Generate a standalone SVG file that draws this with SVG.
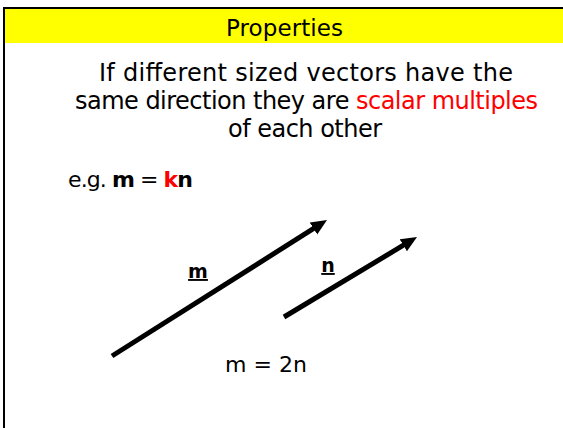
<svg xmlns="http://www.w3.org/2000/svg" width="563" height="428" viewBox="0 0 563 428">
<style>
text{font-family:"DejaVu Sans","Liberation Sans",sans-serif;fill:#000}
.red{fill:#ff0000}
.b{font-weight:bold}
.vec{stroke:#000;stroke-width:5;fill:none;marker-end:url(#ah)}
</style>
<defs>
<marker id="ah" markerUnits="userSpaceOnUse" markerWidth="17" markerHeight="15" refX="5" refY="7" orient="auto">
<path d="M0,0 L16,7 L0,14 z" fill="#000"/>
</marker>
</defs>
<rect x="0" y="0" width="563" height="428" fill="#fff"/>
<g id="header">
<rect x="5" y="9" width="558" height="34" fill="#ffff00"/>
<text x="284.5" y="36" font-size="23" text-anchor="middle" textLength="117">Properties</text>
</g>
<rect x="4" y="8" width="600" height="500" fill="none" stroke="#000" stroke-width="2"/>
<g id="statement">
<text x="306" y="81" font-size="24" text-anchor="middle" textLength="414">If different sized vectors have the</text>
<text x="306.5" y="109" font-size="24" text-anchor="middle" textLength="463">same direction they are <tspan class="red">scalar multiples</tspan></text>
<text x="305" y="137" font-size="24" text-anchor="middle" textLength="154">of each other</text>
</g>
<g id="example">
<text x="68" y="187" font-size="22" textLength="125">e.g. <tspan class="b">m</tspan> = <tspan class="red b">k</tspan><tspan class="b">n</tspan></text>
</g>
<g id="connectors">
<line class="vec" x1="112" y1="356" x2="317.7" y2="225.9"/>
<line class="vec" x1="284" y1="317" x2="407.6" y2="242.7"/>
</g>
<g id="label-m">
<text x="198" y="278" font-size="19" class="b" text-anchor="middle" text-decoration="underline">m</text>
</g>
<g id="label-n">
<text x="328" y="272" font-size="19" class="b" text-anchor="middle" text-decoration="underline">n</text>
</g>
<g id="relation">
<text x="266" y="372" font-size="22" text-anchor="middle" textLength="82">m = 2n</text>
</g>
</svg>
